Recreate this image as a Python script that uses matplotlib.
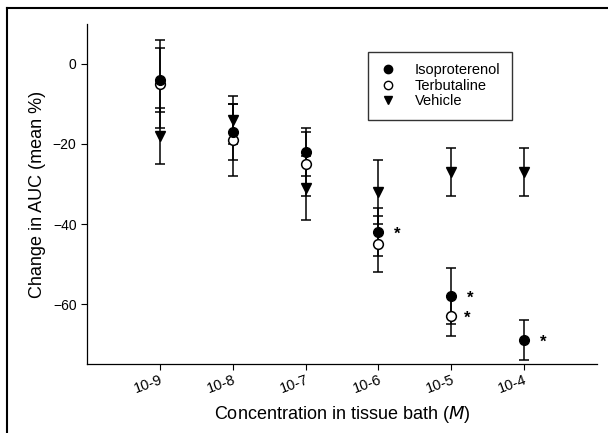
import numpy as np
import matplotlib.pyplot as plt
from matplotlib.lines import Line2D

plt.rcParams['font.family'] = ['Liberation Sans', 'DejaVu Sans']

# log10 of concentration
conc = [-9, -8, -7, -6, -5, -4]
tick_labels = ["10-9", "10-8", "10-7", "10-6", "10-5", "10-4"]

iso_mean = [-4, -17, -22, -42, -58, -69]
iso_up = [10, 7, 6, 6, 7, 5]
iso_lo = [8, 7, 6, 6, 7, 5]
iso_sig = [False, False, False, True, True, True]

terb_conc = [-9, -8, -7, -6, -5]
terb_mean = [-5, -19, -25, -45, -63]
terb_up = [9, 9, 8, 7, 5]
terb_lo = [11, 9, 8, 7, 5]
terb_sig = [False, False, False, False, True]

veh_mean = [-18, -14, -31, -32, -27, -27]
veh_err = [7, 6, 8, 8, 6, 6]

fig = plt.figure(figsize=(6.08, 4.33), dpi=100)
ax = fig.add_axes([0.143, 0.159, 0.839, 0.786])

err_kw = dict(color="black", ecolor="black", elinewidth=1.1, capsize=3.5,
              capthick=1.1, linestyle="none", markersize=7)

ax.errorbar(conc, veh_mean, yerr=veh_err, marker="v", mfc="black", **err_kw)
ax.errorbar(terb_conc, terb_mean, yerr=[terb_lo, terb_up], marker="o",
            mfc="white", mew=1.1, **err_kw)
ax.errorbar(conc, iso_mean, yerr=[iso_lo, iso_up], marker="o", mfc="black", **err_kw)

# significance stars
for x, y, s in zip(conc, iso_mean, iso_sig):
    if s:
        ax.annotate("*", (x, y), xytext=(11, -5), textcoords="offset points",
                    fontsize=12, fontweight="bold")
for x, y, s in zip(terb_conc, terb_mean, terb_sig):
    if s:
        ax.annotate("*", (x, y), xytext=(9, -5), textcoords="offset points",
                    fontsize=12, fontweight="bold")

ax.set_xlim(-10, -3)
ax.set_ylim(-75, 10)
ax.set_yticks([0, -20, -40, -60])
ax.set_xticks(conc)
ax.set_xticklabels(tick_labels, rotation=20, ha="right", rotation_mode="anchor")
ax.tick_params(axis="y", direction="out", length=4, labelsize=10)
ax.tick_params(axis="x", direction="out", length=4, labelsize=10.5, pad=2)

for side in ["top", "right"]:
    ax.spines[side].set_visible(False)
for side in ["left", "bottom"]:
    ax.spines[side].set_linewidth(0.9)

ax.set_xlabel("Concentration in tissue bath ($\\it{M}$)", fontsize=13, labelpad=6)
ax.set_ylabel("Change in AUC (mean %)", fontsize=13, labelpad=5)

handles = [
    Line2D([], [], marker="o", color="black", mfc="black", linestyle="none", markersize=6),
    Line2D([], [], marker="o", color="black", mfc="white", linestyle="none", markersize=6),
    Line2D([], [], marker="v", color="black", mfc="black", linestyle="none", markersize=6),
]
leg = ax.legend(handles, ["Isoproterenol", "Terbutaline", "Vehicle"],
                loc="upper left", bbox_to_anchor=(0.551, 0.918), fontsize=10.5,
                frameon=True, fancybox=False, edgecolor="black",
                handlelength=1.2, handletextpad=1.2, borderpad=0.8,
                labelspacing=0.1, borderaxespad=0)
leg.get_frame().set_linewidth(1.0)

# outer border of the panel
fig.add_artist(Line2D([7 / 608, 7 / 608], [0, 1 - 8 / 433], color="black", lw=1.5))
fig.add_artist(Line2D([7 / 608, 1], [1 - 8 / 433, 1 - 8 / 433], color="black", lw=1.5))

fig.savefig("out.png", dpi=100)
